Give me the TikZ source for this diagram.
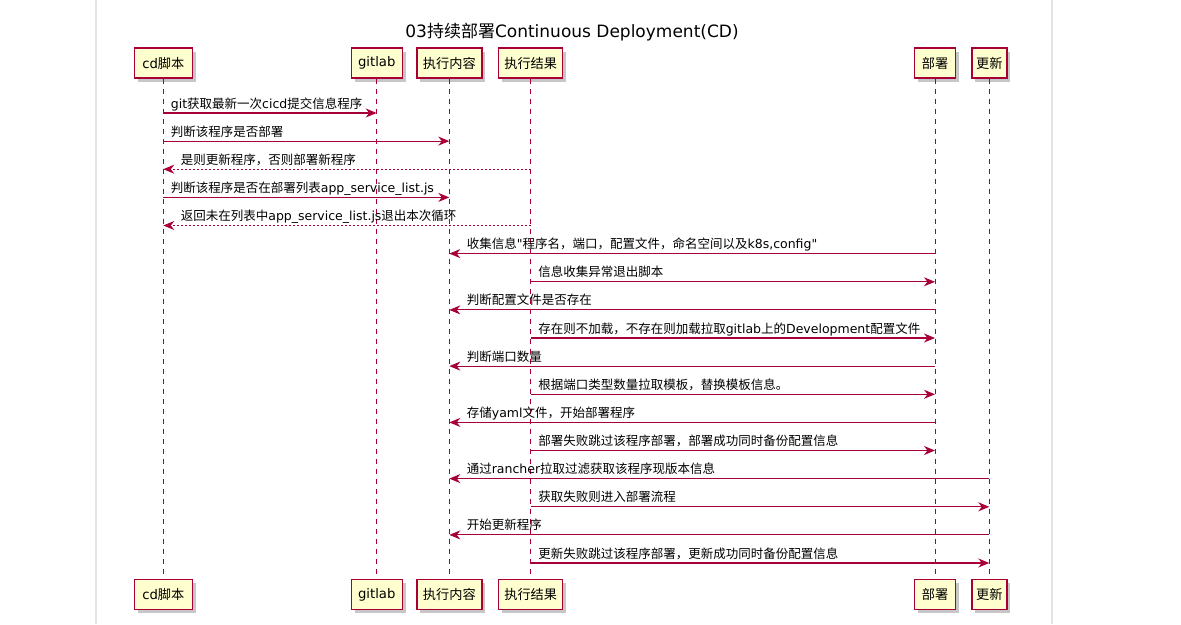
\documentclass[tikz,border=0pt]{standalone}
\usepackage{fontspec}
\setmainfont{Noto Sans CJK SC}
\newfontfamily\lat{DejaVu Sans}
\usetikzlibrary{arrows.meta,shadows}
\definecolor{pr}{HTML}{A80036}
\definecolor{pfill}{HTML}{FEFECE}
\definecolor{pageline}{HTML}{E4E4E4}
\newcommand{\E}[1]{{\lat #1}}
\newcommand{\msgR}[5][]{\draw[msgline,#1] (t#2 |- 0,#4) -- (t#3 |- 0,#4) node[lbl, pos=0, anchor=base west, xshift=7pt, yshift=5pt] {#5};}
\newcommand{\msgL}[5][]{\draw[msgline,#1] (t#2 |- 0,#4) -- (t#3 |- 0,#4) node[lbl, pos=1, anchor=base west, xshift=17pt, yshift=5pt] {#5};}
\begin{document}
\begin{tikzpicture}[x=1pt,y=-1pt,
  part/.style={draw=pr, fill=pfill, line width=1.4pt, minimum height=30, inner sep=0,
    font=\fontsize{13.2}{15}\selectfont,
    general shadow={fill=black!22, shadow xshift=3.5pt, shadow yshift=-3.5pt}},
  life/.style={draw=pr, line width=1pt, dash pattern=on 5pt off 5pt},
  msgline/.style={draw=pr, line width=1.1pt, -{Stealth[length=11pt,width=9pt,inset=3.5pt]}},
  retline/.style={dash pattern=on 2pt off 2pt},
  lbl/.style={font=\fontsize{12.5}{15}\selectfont, inner sep=0, text=black},
  ttl/.style={font=\fontsize{17}{20}\selectfont, inner sep=0}]
\useasboundingbox (0,0) rectangle (1181,624);
\fill[white] (0,0) rectangle (1181,624);
\draw[pageline, line width=1.2pt] (96,0) -- (96,624);
\draw[pageline, line width=1.2pt] (1052,0) -- (1052,624);
\node[ttl] (title) at (572,32) {\E{03}持续部署\E{Continuous Deployment(CD)}};
% participants top
\node[part, minimum width=58] (tcd) at (163.3,63) {\E{cd}脚本};
\node[part, minimum width=51] (tgl) at (376.7,63) {\E{gitlab}};
\node[part, minimum width=65] (tnr) at (449.3,63) {执行内容};
\node[part, minimum width=64] (tjg) at (530.7,63) {执行结果};
\node[part, minimum width=41] (tbs) at (935,63) {部署};
\node[part, minimum width=35] (tgx) at (989.3,63) {更新};
% participants bottom
\node[part, minimum width=58] (bcd) at (163.3,594.5) {\E{cd}脚本};
\node[part, minimum width=51] (bgl) at (376.7,594.5) {\E{gitlab}};
\node[part, minimum width=65] (bnr) at (449.3,594.5) {执行内容};
\node[part, minimum width=64] (bjg) at (530.7,594.5) {执行结果};
\node[part, minimum width=41] (bbs) at (935,594.5) {部署};
\node[part, minimum width=35] (bgx) at (989.3,594.5) {更新};
% lifelines
\foreach \p in {cd,gl,nr,jg,bs,gx}{\draw[life] (t\p) -- (b\p);}
% messages
\msgR{cd}{gl}{113}{\E{git}获取最新一次\E{cicd}提交信息程序}
\msgR{cd}{nr}{141.1}{判断该程序是否部署}
\msgL[retline]{jg}{cd}{169.2}{是则更新程序，否则部署新程序}
\msgR{cd}{nr}{197.4}{判断该程序是否在部署列表\E{app\_service\_list.js}}
\msgL[retline]{jg}{cd}{225.5}{返回未在列表中\E{app\_service\_list.js}退出本次循环}
\msgL{bs}{nr}{253.6}{收集信息\E{"}程序名，端口，配置文件，命名空间以及\E{k8s,config"}}
\msgR{jg}{bs}{281.8}{信息收集异常退出脚本}
\msgL{bs}{nr}{309.9}{判断配置文件是否存在}
\msgR{jg}{bs}{338}{存在则不加载，不存在则加载拉取\E{gitlab}上的\E{Development}配置文件}
\msgL{bs}{nr}{366.1}{判断端口数量}
\msgR{jg}{bs}{394.3}{根据端口类型数量拉取模板，替换模板信息。}
\msgL{bs}{nr}{422.4}{存储\E{yaml}文件，开始部署程序}
\msgR{jg}{bs}{450.5}{部署失败跳过该程序部署，部署成功同时备份配置信息}
\msgL{gx}{nr}{478.6}{通过\E{rancher}拉取过滤获取该程序现版本信息}
\msgR{jg}{gx}{506.8}{获取失败则进入部署流程}
\msgL{gx}{nr}{534.9}{开始更新程序}
\msgR{jg}{gx}{563}{更新失败跳过该程序部署，更新成功同时备份配置信息}
\end{tikzpicture}
\end{document}
